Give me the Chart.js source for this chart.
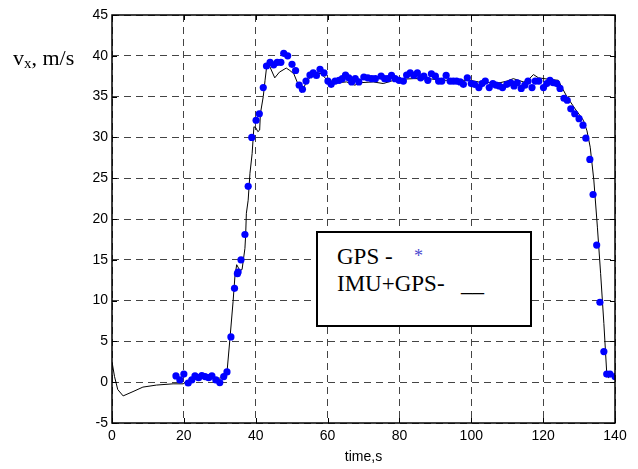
<!DOCTYPE html>
<html>
<head>
<meta charset="utf-8">
<script src="https://cdn.jsdelivr.net/npm/chart.js@4/dist/chart.umd.min.js"></script>
<style>
  html, body { margin: 0; padding: 0; background: #fff; }
  #wrap { position: relative; width: 638px; height: 469px; }
  .serif { position: absolute; font-family: "Liberation Serif", "Times New Roman", serif; color: #000; white-space: nowrap; }
  #ylabel { left: 13px; top: 46px; font-size: 22px; line-height: 24px; }
  #ylabel sub { font-size: 15px; vertical-align: -3px; line-height: 0; }
  #legend { position: absolute; left: 316px; top: 231px; width: 212px; height: 92px; border: 2px solid #000; background: #fff; }
  .lg { font-size: 23px; line-height: 27px; }
</style>
</head>
<body>
<div id="wrap">
  <canvas id="chart" width="638" height="469"></canvas>
  <div id="ylabel" class="serif">v<sub>x</sub>, m/s</div>
  <div id="legend"></div>
  <div class="serif lg" style="left:337px; top:243px;">GPS -</div>
  <div class="serif" style="left:414px; top:246px; font-size:18px; color:#4a4acf;">*</div>
  <div class="serif lg" style="left:337px; top:270px;">IMU+GPS-</div>
  <div class="serif lg" style="left:461px; top:270px;">__</div>
</div>
<script>
'use strict';

// GPS velocity samples (blue dots)
var gpsTime = [17.8, 18.9, 20.0, 21.2, 22.2, 23.1, 24.1, 25.0, 25.9, 26.9, 27.8, 28.9, 30.0, 31.1, 32.0,
  33.1, 34.1, 34.9, 35.1, 35.9, 37.0, 37.9, 38.9, 40.1, 41.0, 42.1, 43.0, 44.0, 45.0, 46.0, 47.0, 47.8,
  48.9, 50.1, 51.1, 52.1, 53.0, 54.0, 55.1, 56.0, 56.9, 57.9, 59.0, 60.1, 61.0, 62.1, 63.2, 64.1, 65.0,
  65.9, 66.7, 67.7, 68.7, 70.1, 71.2, 72.3, 73.3, 74.9, 75.9, 76.8, 77.8, 78.8, 79.9, 81.1, 82.0, 83.0,
  84.0, 85.0, 85.9, 86.8, 87.9, 88.9, 90.0, 90.9, 91.8, 93.0, 94.1, 95.0, 95.9, 96.9, 97.8, 98.9, 100.0,
  100.9, 102.1, 103.0, 103.9, 105.0, 106.0, 106.9, 107.8, 108.7, 109.9, 111.0, 111.9, 112.8, 113.9, 114.9,
  115.8, 116.9, 117.8, 118.8, 120.1, 121.0, 121.9, 122.8, 123.8, 124.7, 125.8, 126.7, 127.7, 128.8, 130.0,
  131.1, 131.9, 133.0, 133.9, 134.9, 135.8, 136.9, 137.7, 138.6, 140.0];
var gpsVel = [0.77, 0.28, 1.0, -0.1, 0.28, 0.77, 0.56, 0.81, 0.69, 0.56, 0.77, 0.28, -0.05, 0.69, 1.26,
  5.55, 11.5, 13.3, 13.5, 15.0, 18.1, 24.0, 30.0, 32.1, 32.9, 36.1, 38.75, 39.2, 38.9, 39.2, 39.2, 40.3,
  40.0, 38.96, 38.2, 36.4, 35.9, 36.9, 37.65, 37.9, 37.6, 38.35, 37.9, 36.9, 36.5, 36.9, 37.0, 37.2, 37.65,
  37.3, 36.8, 37.2, 36.8, 37.4, 37.3, 37.2, 37.2, 37.5, 37.2, 37.2, 37.6, 37.2, 37.0, 36.9, 37.65, 37.9,
  37.6, 37.9, 37.3, 37.5, 37.0, 37.8, 37.5, 36.9, 36.9, 37.6, 36.9, 36.9, 36.9, 36.8, 36.5, 37.3, 36.6,
  36.5, 36.1, 36.6, 36.9, 36.1, 36.6, 36.4, 36.3, 36.1, 36.5, 36.7, 36.3, 36.7, 36.0, 36.4,
  36.9, 36.1, 36.9, 36.9, 36.1, 36.6, 37.0, 36.7, 36.6, 36.0, 34.8, 34.55, 33.5, 32.9, 32.3,
  31.5, 29.9, 27.3, 23.0, 16.8, 9.8, 3.75, 1.0, 1.0, 0.7];

// IMU+GPS fused estimate (black line)
var imuTime = [0, 0.7, 1.6, 3.1, 5.85, 8.6, 12.4, 17, 19.8, 21, 24.4, 30, 31.9, 32.8, 33.7, 34.2, 34.7,
  35.2, 35.6, 36.2, 37.0, 37.2, 37.4, 37.9, 38.4, 39.0, 39.5, 40.0, 40.6, 41.1, 41.3, 42.1, 42.6, 43.0,
  43.9, 45.3, 46.6, 48.5, 49.5, 50.6, 51.8, 52.8, 53.9, 55.5, 56.9, 58.3, 59.7, 62.5, 65.3, 67.6, 69,
  72.7, 75.5, 79.2, 84, 88, 92, 96, 99.6, 102, 105.2, 108, 109.9, 111.7, 114.5, 116.2, 117.3, 118.7,
  121.9, 124.2, 125.5, 126.6, 128.9, 131.2, 132.2, 133.1, 134.1, 135.1, 136.0, 136.9, 137.7, 138.2];
var imuVel = [2.5, 0.7, -0.9, -1.68, -1.15, -0.6, -0.35, -0.2, -0.2, 0.1, 0.5, 0.5, 0.7, 5.2, 9.9, 12.9, 14.4,
  14.0, 13.7, 13.8, 16.4, 18.0, 20.7, 22.3, 25.6, 28.0, 31.3, 31.2, 30.7, 30.9, 32.9, 35.0, 37.0, 38.5,
  38.7, 37.3, 38.0, 38.5, 38.2, 37.8, 36.5, 35.5, 36.6, 37.6, 37.9, 37.8, 37.1, 36.7, 36.8, 36.4, 36.7,
  36.8, 36.6, 37.1, 37.2, 37.2, 37.0, 37.0, 37.0, 36.8, 36.7, 36.7, 36.9, 37.2, 36.8, 37.2, 37.7, 37.3,
  37.1, 37.0, 35.9, 35.0, 33.5, 32.1, 30.8, 28.8, 24.8, 19.0, 13.3, 7.2, 1.1, 0.5];

var xTicks = [0, 20, 40, 60, 80, 100, 120, 140];
var yTicks = [-5, 0, 5, 10, 15, 20, 25, 30, 35, 40, 45];

function pairs(xs, ys) {
  return xs.map(function (x, i) { return { x: x, y: ys[i] }; });
}

// Matlab-style box with inward tick marks on all four sides.
var framePlugin = {
  id: 'frame',
  afterDraw: function (chart) {
    var ctx = chart.ctx, a = chart.chartArea;
    var sx = chart.scales.x, sy = chart.scales.y;
    ctx.save();
    ctx.strokeStyle = '#000';
    ctx.lineWidth = 1;
    ctx.beginPath();
    xTicks.forEach(function (v) {
      var px = Math.round(sx.getPixelForValue(v)) + 0.5;
      ctx.moveTo(px, a.bottom); ctx.lineTo(px, a.bottom - 5);
      ctx.moveTo(px, a.top); ctx.lineTo(px, a.top + 5);
    });
    yTicks.forEach(function (v) {
      var py = Math.round(sy.getPixelForValue(v)) + 0.5;
      ctx.moveTo(a.left, py); ctx.lineTo(a.left + 5, py);
      ctx.moveTo(a.right, py); ctx.lineTo(a.right - 5, py);
    });
    ctx.stroke();
    ctx.lineWidth = 1.5;
    ctx.strokeRect(a.left, a.top, a.right - a.left, a.bottom - a.top);
    ctx.restore();
  }
};

var tickFont = { family: '"Liberation Sans", Arial, sans-serif', size: 14 };

new Chart(document.getElementById('chart'), {
  type: 'scatter',
  data: {
    datasets: [
      {
        label: 'GPS',
        data: pairs(gpsTime, gpsVel),
        pointRadius: 3.6,
        pointBackgroundColor: '#0000ff',
        pointBorderWidth: 0,
        showLine: false,
        order: 0
      },
      {
        label: 'IMU+GPS',
        data: pairs(imuTime, imuVel),
        showLine: true,
        borderColor: '#000',
        borderWidth: 1,
        pointRadius: 0,
        tension: 0,
        order: 1
      }
    ]
  },
  plugins: [framePlugin],
  options: {
    responsive: false,
    animation: false,
    events: [],
    layout: { padding: { top: 15, right: 23, left: 0, bottom: 0 } },
    plugins: { legend: { display: false }, tooltip: { enabled: false } },
    scales: {
      x: {
        type: 'linear',
        min: 0, max: 140,
        afterBuildTicks: function (s) { s.ticks = xTicks.map(function (v) { return { value: v }; }); },
        afterFit: function (s) { s.height = 46; },
        ticks: { color: '#000', font: tickFont, padding: 5, maxRotation: 0 },
        grid: { color: '#444', lineWidth: 1, drawTicks: false },
        border: { display: false, dash: [7, 5] },
        title: { display: true, text: 'time,s', color: '#000', font: tickFont, padding: { top: 0, bottom: 3 } }
      },
      y: {
        min: -5, max: 45,
        afterBuildTicks: function (s) { s.ticks = yTicks.map(function (v) { return { value: v }; }); },
        afterFit: function (s) { s.width = 112; },
        ticks: { color: '#000', font: tickFont, padding: 4 },
        grid: { color: '#444', lineWidth: 1, drawTicks: false },
        border: { display: false, dash: [7, 5] }
      }
    }
  }
});
</script>
</body>
</html>
